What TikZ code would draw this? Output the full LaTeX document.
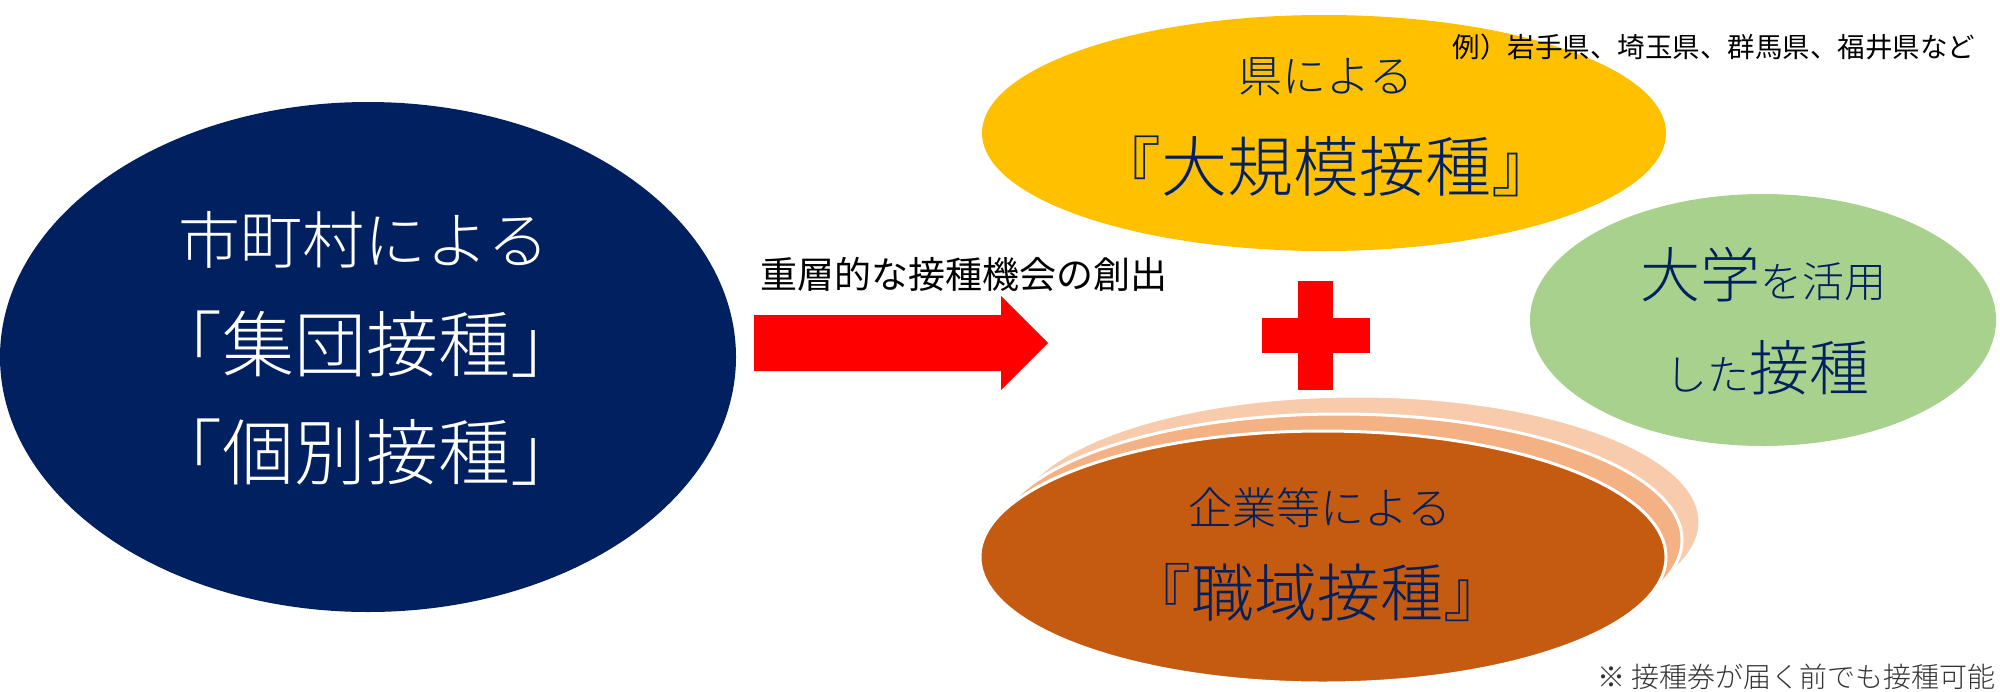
\documentclass[tikz,border=0pt]{standalone}
\usepackage{fontspec}
\setmainfont{Noto Sans CJK JP}
\newfontfamily\thin{Noto Sans CJK JP Light}
\usetikzlibrary{shapes.geometric}
\definecolor{navy}{HTML}{002060}
\definecolor{gold}{HTML}{FFC000}
\definecolor{leaf}{HTML}{A9D18E}
\definecolor{rust}{HTML}{C55A11}
\definecolor{peach}{HTML}{F4B183}
\definecolor{peachlight}{HTML}{F8CBAD}
\newcommand{\fs}[1]{\fontsize{#1}{#1}\selectfont}
\tikzset{
  blob/.style={ellipse, inner sep=0pt, draw=none},
  stackblob/.style={ellipse, inner sep=0pt, draw=white, line width=3pt},
  label/.style={inner sep=0pt, text=navy},
}
\begin{document}
\begin{tikzpicture}[x=1pt,y=-1pt]
\useasboundingbox (0,0) rectangle (2000,691);
% left ellipse
\node[blob, fill=navy, minimum width=736, minimum height=510] (muni) at (368,357) {};
\node[label, text=white, font=\thin\fs{62}] (muni1) at (364,240) {市町村による};
\node[label, text=white, font=\thin\fs{72}] (muni2) at (366,344) {「集団接種」};
\node[label, text=white, font=\thin\fs{72}] (muni3) at (366,452) {「個別接種」};
% arrow
\fill[red] (754,315) -- (1001,315) -- (1001,296) -- (1048,343) -- (1001,390) -- (1001,371) -- (754,371) -- cycle;
\node[inner sep=0pt, font=\fs{37}] (arrlab) at (964,274) {重層的な接種機会の創出};
% yellow
\node[blob, fill=gold, minimum width=684, minimum height=236] (pref) at (1324,133) {};
\node[label, font=\thin\fs{44}] (pref1) at (1326,77) {県による};
\node[label, font=\thin\fs{66}] (pref2) at (1326,166) {『大規模接種』};
\node[inner sep=0pt, font=\fs{27.5}] (example) at (1714,47) {例）岩手県、埼玉県、群馬県、福井県など};
% plus
\fill[red] (1298,281) rectangle (1333,390);
\fill[red] (1262,318) rectangle (1370,353);
% green
\node[blob, fill=leaf, minimum width=466, minimum height=252] (univ) at (1763,320) {};
\node[label, font=\thin] (univ1) at (1763,275) {{\fs{60}大学}{\fs{42}を活用}};
\node[label, font=\thin] (univ2) at (1767,368) {{\fs{42}した}{\fs{60}接種}};
% orange stack
\node[stackblob, fill=peachlight, minimum width=686, minimum height=252] (work3) at (1357,522) {};
\node[stackblob, fill=peach, minimum width=686, minimum height=252] (work2) at (1339,540) {};
\node[stackblob, fill=rust, minimum width=686, minimum height=252] (work) at (1323,557) {};
\node[label, font=\thin\fs{44}] (work1) at (1320,508) {企業等による};
\node[label, font=\thin\fs{63}] (work2t) at (1317,593) {『職域接種』};
% footnote
\node[inner sep=0pt, anchor=east, text=black!80, font=\thin\fs{28}] (note) at (1996,677) {※ 接種券が届く前でも接種可能};
\end{tikzpicture}
\end{document}
